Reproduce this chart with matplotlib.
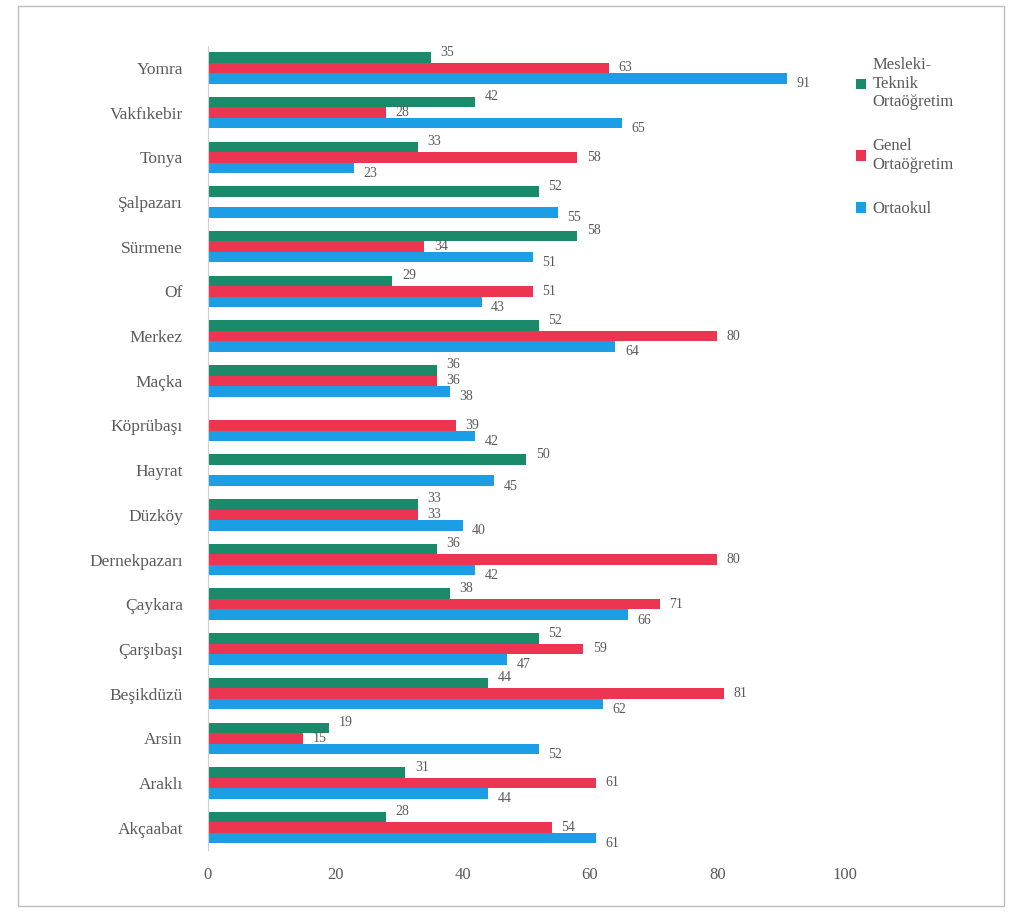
import matplotlib
matplotlib.use("Agg")
import matplotlib.pyplot as plt
import numpy as np
from matplotlib.patches import Rectangle

# districts, top to bottom as in the chart
districts = ["Yomra", "Vakfıkebir", "Tonya", "Şalpazarı", "Sürmene", "Of", "Merkez",
             "Maçka", "Köprübaşı", "Hayrat", "Düzköy", "Dernekpazarı", "Çaykara",
             "Çarşıbaşı", "Beşikdüzü", "Arsin", "Araklı", "Akçaabat"]

series_names = ["Mesleki-\nTeknik\nOrtaöğretim", "Genel\nOrtaöğretim", "Ortaokul"]

# None = no bar for that school type
mesleki = [35, 42, 33, 52, 58, 29, 52, 36, None, 50, 33, 36, 38, 52, 44, 19, 31, 28]
genel = [63, 28, 58, None, 34, 51, 80, 36, 39, None, 33, 80, 71, 59, 81, 15, 61, 54]
ortaokul = [91, 65, 23, 55, 51, 43, 64, 38, 42, 45, 40, 42, 66, 47, 62, 52, 44, 61]

colors = ["#1b8a6b", "#ec3550", "#1c9ee6"]
text_color = "#5a5a5a"

plt.rcParams["font.family"] = ["Liberation Serif", "DejaVu Serif"]

fig = plt.figure(figsize=(10.09, 9.13), dpi=100)
ax = fig.add_axes([0.206, 0.069, 0.631, 0.881])

y = np.arange(len(districts))
h = 0.235
label_shift = [-0.12, 0.0, 0.12]  # keep value labels of neighbouring bars apart
for k, (vals, col, name) in enumerate(zip([mesleki, genel, ortaokul], colors, series_names)):
    off = (k - 1) * h
    ys = [yy + off for yy, v in zip(y, vals) if v is not None]
    vs = [v for v in vals if v is not None]
    ax.barh(ys, vs, height=h, color=col, label=name)
    for yy, v in zip(ys, vs):
        ax.text(v + 1.5, yy + label_shift[k], str(v), va="center", ha="left",
                fontsize=10, color=text_color)

ax.set_xlim(0, 100)
ax.set_ylim(len(districts) - 0.5, -0.5)
ax.set_yticks(y)
ax.set_yticklabels(districts, fontsize=12.5, color=text_color)
ax.set_xticks([0, 20, 40, 60, 80, 100])
ax.tick_params(axis="both", length=0, labelcolor=text_color)
ax.tick_params(axis="x", labelsize=12, pad=12)
ax.tick_params(axis="y", pad=18)
for s in ["top", "right", "bottom"]:
    ax.spines[s].set_visible(False)
ax.spines["left"].set_color("#d0d0d0")

ax.legend(loc="upper left", bbox_to_anchor=(1.0, 1.0), frameon=False, fontsize=12,
          labelcolor=text_color, handlelength=0.6, handleheight=0.6, handletextpad=0.4,
          labelspacing=1.7, borderaxespad=0.3)

# outer frame of the chart
fig.patches.append(Rectangle((0.018, 0.008), 0.977, 0.985, transform=fig.transFigure,
                             fill=False, edgecolor="#bdbdbd", linewidth=1.0))

fig.savefig("out.png", dpi=100)
